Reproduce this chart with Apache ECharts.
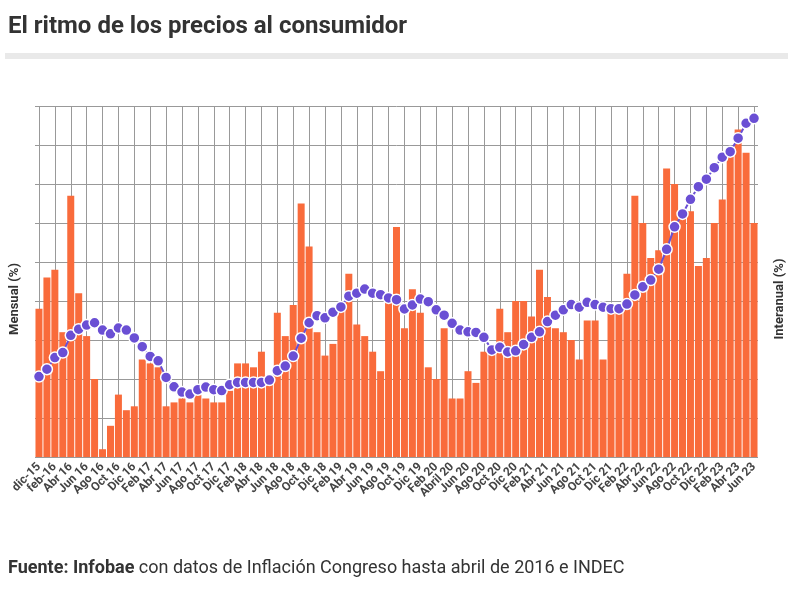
<!DOCTYPE html>
<html>
<head>
<meta charset="utf-8">
<script src="https://cdn.jsdelivr.net/npm/echarts@6/dist/echarts.min.js"></script>
<style>
  html, body { margin: 0; padding: 0; background: #fff; }
</style>
</head>
<body>
<div id="ritmo" style="width: 800px; height: 590px;"></div>
<script>
  // meses (solo se muestra uno de cada dos)
  let meses = [
    'dic-15', 'Ene 16', 'feb-16', 'Mar 16', 'Abr 16', 'May 16', 'Jun 16', 'Jul 16', 'Ago 16', 'Sep 16', 'Oct 16', 'Nov 16', 'Dic 16',
    'Ene 17', 'Feb 17', 'Mar 17', 'Abr 17', 'May 17', 'Jun 17', 'Jul 17', 'Ago 17', 'Sep 17', 'Oct 17', 'Nov 17', 'Dic 17',
    'Ene 18', 'Feb 18', 'Mar 18', 'Abr 18', 'May 18', 'Jun 18', 'Jul 18', 'Ago 18', 'Sep 18', 'Oct 18', 'Nov 18', 'Dic 18',
    'Ene 19', 'Feb 19', 'Mar 19', 'Abr 19', 'May 19', 'Jun 19', 'Jul 19', 'Ago 19', 'Sep 19', 'Oct 19', 'Nov 19', 'Dic 19',
    'Ene 20', 'Feb 20', 'Mar 20', 'Abril 20', 'May 20', 'Jun 20', 'Jul 20', 'Ago 20', 'Sep 20', 'Oct 20', 'Nov 20', 'Dic 20',
    'Ene 21', 'Feb 21', 'Mar 21', 'Abr 21', 'May 21', 'Jun 21', 'Jul 21', 'Ago 21', 'Sep 21', 'Oct 21', 'Nov 21', 'Dic 21',
    'Ene 22', 'Feb 22', 'Mar 22', 'Abr 22', 'May 22', 'Jun 22', 'Jul 22', 'Ago 22', 'Sep 22', 'Oct 22', 'Nov 22', 'Dic 22',
    'Ene 23', 'Feb 23', 'Mar 23', 'Abr 23', 'May 23', 'Jun 23'
  ]

  // inflacion mensual (%)
  let mensual = [
    3.8, 4.6, 4.8, 3.2, 6.7, 4.2, 3.1, 2.0, 0.2, 0.8,
    1.6, 1.2, 1.3, 2.5, 2.4, 2.3, 1.3, 1.4, 1.5, 1.4,
    1.6, 1.5, 1.4, 1.4, 1.7, 2.4, 2.4, 2.3, 2.7, 2.1,
    3.7, 3.1, 3.9, 6.5, 5.4, 3.2, 2.6, 2.9, 3.8, 4.7,
    3.4, 3.1, 2.7, 2.2, 4.0, 5.9, 3.3, 4.3, 3.7, 2.3,
    2.0, 3.3, 1.5, 1.5, 2.2, 1.9, 2.7, 2.8, 3.8, 3.2,
    4.0, 4.0, 3.6, 4.8, 4.1, 3.3, 3.2, 3.0, 2.5, 3.5,
    3.5, 2.5, 3.7, 3.8, 4.7, 6.7, 6.0, 5.1, 5.3, 7.4,
    7.0, 6.2, 6.3, 4.9, 5.1, 6.0, 6.6, 7.7, 8.4, 7.8, 6.0
  ]

  // inflacion interanual (%)
  let interanual = [
    27.5, 30.0, 34.0, 35.7, 41.6, 43.7, 45.1, 45.9, 43.4, 42.1,
    44.1, 43.4, 40.7, 37.7, 34.4, 32.9, 27.2, 24.0, 22.2, 21.5,
    23.0, 23.9, 23.0, 22.7, 24.7, 25.5, 25.5, 25.5, 25.5, 26.3,
    29.5, 31.1, 34.5, 40.6, 45.9, 48.3, 47.6, 49.5, 51.3, 55.0,
    56.0, 57.4, 56.0, 55.5, 54.4, 53.8, 50.6, 52.0, 54.0, 53.1,
    50.3, 48.5, 45.7, 43.4, 42.8, 42.6, 40.9, 36.6, 37.5, 35.9,
    36.3, 38.5, 40.9, 42.8, 46.3, 48.5, 50.3, 52.1, 51.2, 52.9,
    52.1, 51.2, 50.7, 50.7, 52.3, 55.4, 58.2, 60.5, 64.2, 71.0,
    78.7, 83.1, 88.1, 92.4, 95.0, 98.9, 102.5, 104.4, 109.0, 114.1, 115.8
  ]

  let naranja = '#f96b3b'
  let violeta = '#6a4fd4'

  let options = {
    animation: false,
    title: [
      {
        text: 'El ritmo de los precios al consumidor',
        left: 8,
        top: 15,
        padding: 0,
        textStyle: { fontFamily: 'Roboto', fontSize: 24, fontWeight: 'bold', color: '#333' }
      },
      {
        text: '{b|Fuente: Infobae} con datos de Inflación Congreso hasta abril de 2016 e INDEC',
        left: 8,
        top: 559,
        padding: 0,
        textStyle: {
          fontFamily: 'Roboto', fontSize: 18, fontWeight: 'normal', color: '#333',
          rich: { b: { fontFamily: 'Roboto', fontSize: 18, fontWeight: 'bold', color: '#333' } }
        }
      }
    ],
    graphic: [
      { type: 'rect', shape: { x: 5, y: 53, width: 783, height: 6 }, style: { fill: '#e9e9e9' } },
      {
        type: 'text', x: 15, y: 299, rotation: Math.PI / 2,
        style: { text: 'Mensual (%)', font: 'bold 13px Roboto', fill: '#333', textAlign: 'center', textVerticalAlign: 'middle' }
      },
      {
        type: 'text', x: 780, y: 299, rotation: Math.PI / 2,
        style: { text: 'Interanual (%)', font: 'bold 13px Roboto', fill: '#333', textAlign: 'center', textVerticalAlign: 'middle' }
      }
    ],
    grid: {
      left: 35,
      right: 42,
      top: 106,
      bottom: 133,
      containLabel: false
    },
    xAxis: [{
      type: 'category',
      data: meses,
      boundaryGap: true,
      axisLine: { show: false },
      axisTick: { show: false },
      axisLabel: {
        interval: 0,
        rotate: 45,
        margin: 8,
        showMinLabel: true,
        showMaxLabel: true,
        hideOverlap: false,
        // un mes si, uno no
        formatter: function (value, index) { return index % 2 ? '' : value },
        fontFamily: 'Roboto',
        fontSize: 12,
        fontWeight: 'bold',
        color: '#444'
      },
      splitLine: {
        show: true,
        interval: 1,
        alignWithLabel: true,
        lineStyle: { color: '#999', width: 1 }
      }
    }],
    yAxis: [
      {
        type: 'value',
        min: 0,
        max: 9,
        interval: 1,
        axisLine: { show: false },
        axisTick: { show: false },
        axisLabel: { show: false },
        splitLine: { show: true, lineStyle: { color: '#999', width: 1 } }
      },
      {
        type: 'value',
        min: 0,
        max: 120,
        position: 'right',
        axisLine: { show: false },
        axisTick: { show: false },
        axisLabel: { show: false },
        splitLine: { show: false }
      }
    ],
    series: [
      {
        name: 'Mensual',
        type: 'bar',
        data: mensual,
        barCategoryGap: '12%',
        itemStyle: { color: naranja }
      },
      {
        name: 'Interanual',
        type: 'line',
        yAxisIndex: 1,
        data: interanual,
        symbol: 'circle',
        symbolSize: 11,
        showAllSymbol: true,
        lineStyle: { color: violeta, width: 2 },
        itemStyle: { color: violeta, borderColor: '#fff', borderWidth: 1.5 },
        z: 3
      }
    ]
  }

  let mychart = echarts.init(document.getElementById('ritmo'))
  mychart.setOption(options)
</script>
</body>
</html>
